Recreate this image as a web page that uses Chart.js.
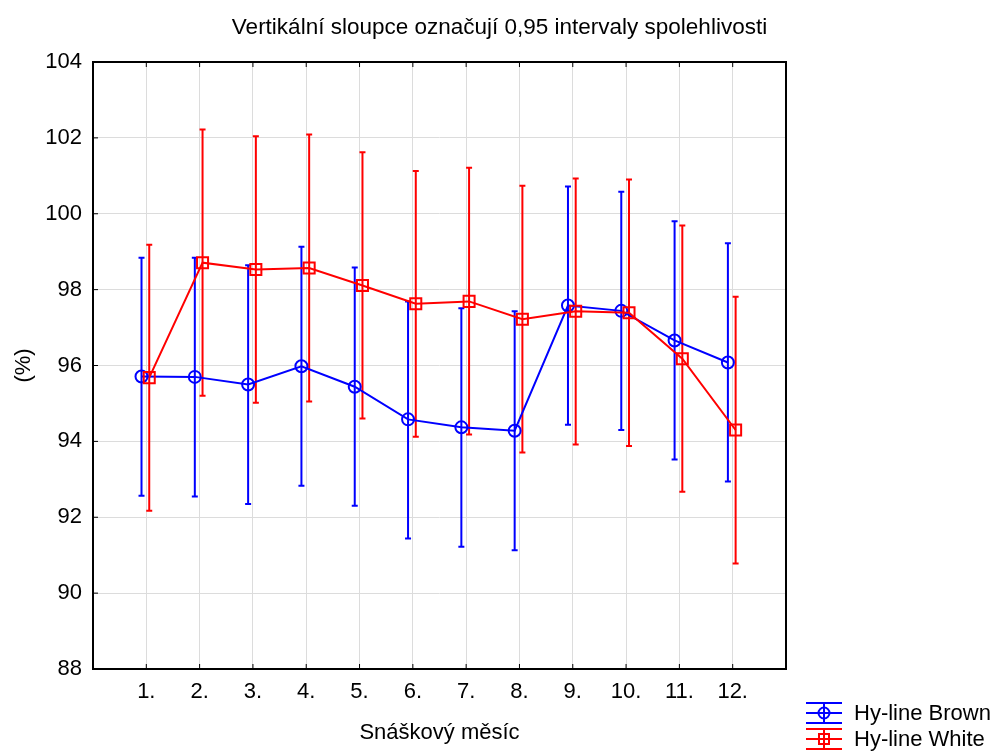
<!DOCTYPE html>
<html>
<head>
<meta charset="utf-8">
<script src="https://cdn.jsdelivr.net/npm/chart.js@4"></script>
<style>
  body { margin: 0; background: #fff; }
  #wrap { width: 999px; height: 751px; }
</style>
</head>
<body>
<div id="wrap"><canvas id="errChart" width="999" height="751"></canvas></div>
<script>
const months = ['1.', '2.', '3.', '4.', '5.', '6.', '7.', '8.', '9.', '10.', '11.', '12.'];

const brownMean = [95.71, 95.70, 95.50, 95.98, 95.44, 94.58, 94.37, 94.28, 97.58, 97.44, 96.66, 96.08];
const brownLow  = [92.57, 92.55, 92.35, 92.83, 92.30, 91.44, 91.22, 91.13, 94.44, 94.30, 93.52, 92.94];
const brownHigh = [98.84, 98.84, 98.64, 99.13, 98.58, 97.69, 97.51, 97.43, 100.72, 100.58, 99.80, 99.22];

const whiteMean = [95.68, 98.71, 98.53, 98.57, 98.11, 97.63, 97.69, 97.22, 97.43, 97.39, 96.18, 94.30];
const whiteLow  = [92.17, 95.20, 95.02, 95.05, 94.60, 94.12, 94.18, 93.71, 93.92, 93.88, 92.67, 90.78];
const whiteHigh = [99.18, 102.22, 102.04, 102.09, 101.62, 101.13, 101.21, 100.74, 100.93, 100.90, 99.69, 97.81];

const yTicks = [88, 90, 92, 94, 96, 98, 100, 102, 104];

// small sideways shift so the two series don't sit on top of each other
const brownShift = -0.09;
const whiteShift = 0.055;

const FONT = 'Arial, "Liberation Sans", sans-serif';

function points(means, shift) {
  return means.map((v, i) => ({ x: i + 1 + shift, y: v }));
}

// vertical confidence bars, drawn through the chart scales
const errorBars = {
  id: 'errorBars',
  beforeDatasetsDraw(chart) {
    const { ctx, scales: { x, y } } = chart;
    chart.data.datasets.forEach(ds => {
      ctx.save();
      ctx.strokeStyle = ds.borderColor;
      ctx.lineWidth = 2;
      ds.data.forEach((p, i) => {
        const px = x.getPixelForValue(p.x);
        const top = y.getPixelForValue(ds.high[i]);
        const bot = y.getPixelForValue(ds.low[i]);
        ctx.beginPath();
        ctx.moveTo(px, top); ctx.lineTo(px, bot);
        ctx.moveTo(px - 3, top); ctx.lineTo(px + 3, top);
        ctx.moveTo(px - 3, bot); ctx.lineTo(px + 3, bot);
        ctx.stroke();
      });
      ctx.restore();
    });
  }
};

// black frame around the plot plus inward tick marks
const frame = {
  id: 'frame',
  afterDraw(chart) {
    const { ctx, chartArea: a, scales: { x, y } } = chart;
    ctx.save();
    ctx.strokeStyle = '#000';
    ctx.lineWidth = 1;
    ctx.beginPath();
    months.forEach((m, i) => {
      const px = x.getPixelForValue(i + 1);
      ctx.moveTo(px, a.bottom); ctx.lineTo(px, a.bottom - 5);
      ctx.moveTo(px, a.top); ctx.lineTo(px, a.top + 5);
    });
    yTicks.forEach(t => {
      const py = y.getPixelForValue(t);
      ctx.moveTo(a.left, py); ctx.lineTo(a.left + 5, py);
    });
    ctx.stroke();
    ctx.lineWidth = 2;
    ctx.strokeRect(a.left, a.top, a.right - a.left, a.bottom - a.top);
    ctx.restore();
  }
};

// legend in the lower right corner
const cornerLegend = {
  id: 'cornerLegend',
  afterDraw(chart) {
    const ctx = chart.ctx;
    chart.data.datasets.forEach((ds, i) => {
      const cy = 713 + i * 26;
      const cx = 824;
      ctx.save();
      ctx.strokeStyle = ds.borderColor;
      ctx.lineWidth = 2;
      ctx.beginPath();
      ctx.moveTo(806, cy - 10); ctx.lineTo(842, cy - 10);
      ctx.moveTo(806, cy); ctx.lineTo(842, cy);
      ctx.moveTo(806, cy + 10); ctx.lineTo(842, cy + 10);
      ctx.moveTo(cx, cy - 10); ctx.lineTo(cx, cy + 10);
      ctx.stroke();
      ctx.beginPath();
      if (ds.pointStyle === 'rect') {
        ctx.rect(cx - 5, cy - 5, 10, 10);
      } else {
        ctx.arc(cx, cy, 5.5, 0, Math.PI * 2);
      }
      ctx.stroke();
      ctx.fillStyle = '#000';
      ctx.font = '22px ' + FONT;
      ctx.textBaseline = 'middle';
      ctx.fillText(ds.label, 854, cy + 1);
      ctx.restore();
    });
  }
};

const data = {
  datasets: [{
    label: 'Hy-line Brown',
    data: points(brownMean, brownShift),
    low: brownLow,
    high: brownHigh,
    borderColor: '#0000ff',
    backgroundColor: 'rgba(0,0,0,0)',
    borderWidth: 2,
    pointStyle: 'circle',
    pointRadius: 6,
    pointBorderWidth: 2,
    pointBorderColor: '#0000ff',
    pointBackgroundColor: 'rgba(0,0,0,0)',
    tension: 0,
    order: 2
  }, {
    label: 'Hy-line White',
    data: points(whiteMean, whiteShift),
    low: whiteLow,
    high: whiteHigh,
    borderColor: '#ff0000',
    backgroundColor: 'rgba(0,0,0,0)',
    borderWidth: 2,
    pointStyle: 'rect',
    pointRadius: 7.8,
    pointBorderWidth: 2,
    pointBorderColor: '#ff0000',
    pointBackgroundColor: 'rgba(0,0,0,0)',
    tension: 0,
    order: 1
  }]
};

const config = {
  type: 'line',
  data: data,
  options: {
    responsive: false,
    animation: false,
    layout: { padding: 0 },
    plugins: {
      legend: { display: false },
      tooltip: { enabled: false },
      title: {
        display: true,
        text: 'Vertikální sloupce označují 0,95 intervaly spolehlivosti',
        color: '#000',
        font: { family: FONT, size: 22.5, weight: 'normal' },
        padding: { top: 14, bottom: 21 }
      }
    },
    scales: {
      x: {
        type: 'linear',
        min: 0,
        max: 13,
        afterFit: s => { s.height = 82; },
        ticks: {
          stepSize: 1,
          autoSkip: false,
          maxRotation: 0,
          color: '#000',
          padding: 10,
          font: { family: FONT, size: 22 },
          callback: v => months[v - 1] || ''
        },
        grid: { color: '#dcdcdc', lineWidth: 1, drawTicks: false },
        border: { display: false },
        title: {
          display: true,
          text: 'Snáškový měsíc',
          color: '#000',
          font: { family: FONT, size: 22 },
          padding: { top: 0, bottom: 5 }
        }
      },
      y: {
        min: 88,
        max: 104,
        afterFit: s => { s.width = 93; },
        afterBuildTicks: s => { s.ticks = yTicks.map(v => ({ value: v })); },
        ticks: {
          color: '#000',
          padding: 11,
          font: { family: FONT, size: 22 }
        },
        grid: { color: '#dcdcdc', lineWidth: 1, drawTicks: false },
        border: { display: false },
        title: {
          display: true,
          text: '(%)',
          color: '#000',
          font: { family: FONT, size: 22 },
          padding: { top: 11, bottom: 0 }
        }
      },
      // empty space on the right where the legend hangs
      side: {
        position: 'right',
        min: 88,
        max: 104,
        afterFit: s => { s.width = 213; },
        ticks: { display: false },
        grid: { display: false },
        border: { display: false }
      }
    }
  },
  plugins: [errorBars, frame, cornerLegend]
};

const errChart = new Chart(document.getElementById('errChart'), config);
</script>
</body>
</html>
